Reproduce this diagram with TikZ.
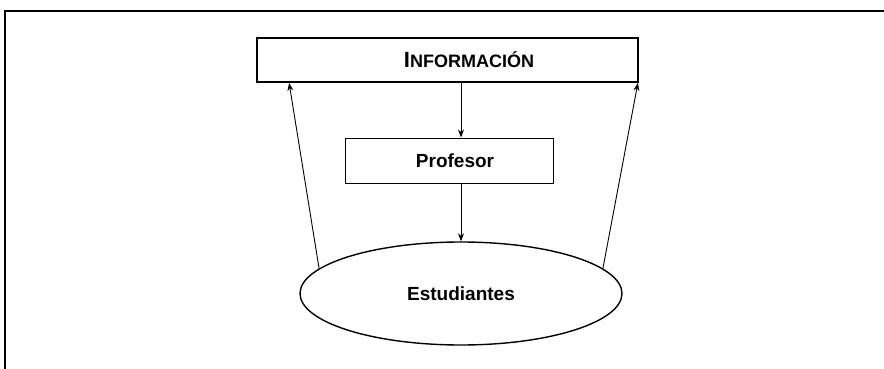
\documentclass[tikz,border=0pt]{standalone}
\usepackage{fontspec}
\setmainfont{Liberation Sans}
\usetikzlibrary{shapes.geometric,arrows.meta,calc}
\begin{document}
\begin{tikzpicture}[x=1pt,y=-1pt,
  box/.style={draw, rectangle, inner sep=0pt, font=\fontsize{19}{22}\selectfont\bfseries},
  arr/.style={-{Stealth[length=8pt,width=6pt]}, line width=0.9pt}]
\useasboundingbox (0,0) rectangle (884,369);
\draw[line width=1.8pt] (5,369) -- (5,11) -- (884,11);
\node[box, line width=1.8pt, minimum width=381pt, minimum height=44pt] (info) at (447.5,60)
  {\hspace*{43pt}{\fontsize{22}{24}\selectfont I}{\fontsize{18}{20}\selectfont NFORMACIÓN}};
\node[box, line width=1pt, minimum width=208pt, minimum height=45pt] (prof) at (449,160.5) {\hspace*{12pt}Profesor};
\node[draw, ellipse, line width=1.4pt, minimum width=322pt, minimum height=103pt, inner sep=0pt,
  font=\fontsize{19}{22}\selectfont\bfseries] (est) at (461,293.5) {Estudiantes};
\draw[arr] (info.south -| est.north) -- (prof.north -| est.north);
\draw[arr] (prof.south -| est.north) -- (est.north);
\draw[arr] (est.170) -- ($(info.south west)+(33,0)$);
\draw[arr] (est.10) -- ($(info.south east)+(-1,0)$);
\end{tikzpicture}
\end{document}
